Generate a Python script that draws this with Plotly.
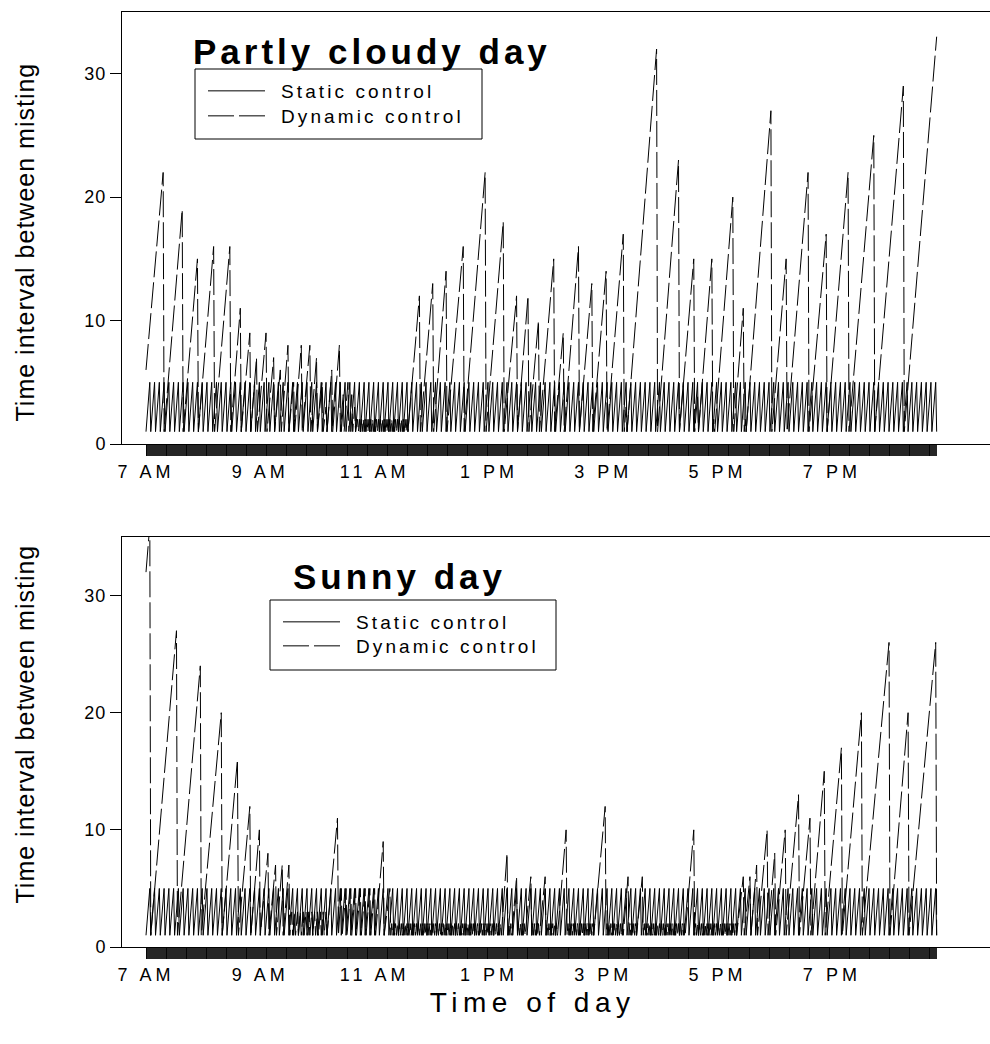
import plotly.graph_objects as go

# ---------------- data (minutes after 7:00 AM) ----------------
hour_tick_min = [0, 120, 240, 360, 480, 600, 720]
hour_tick_text = ["7 AM", "9 AM", "11 AM", "1 PM", "3 PM", "5 PM", "7 PM"]
y_tick_vals = [0, 10, 20, 30]
day_end_min = 830
static_interval = 5

# Partly cloudy day - dynamic control: peaks of the counter
pc_dyn_start_value = 6
pc_peak_min = [18, 38, 54, 71, 88, 99, 109, 116, 126, 134,
               141, 149, 155, 163, 172, 179, 185, 189, 195, 203,
               207, 212, 216, 219, 287, 301, 315, 333, 356, 375,
               389, 401, 412, 428, 438, 454, 468, 483, 501, 504,
               536, 559, 575, 579, 594, 596, 616, 627, 629, 656,
               672, 695, 714, 737, 764, 795, 830]
pc_peak_val = [22, 19, 15, 16, 16, 11, 9, 7, 9, 7,
               6, 8, 5, 8, 8, 7, 5, 3, 6, 8,
               4, 5, 4, 3, 12, 13, 14, 16, 22, 18,
               12, 12, 10, 15, 9, 16, 13, 14, 17, 3,
               32, 23, 15, 4, 15, 2, 20, 11, 2, 27,
               15, 22, 17, 22, 25, 29, 33]
# runs of short, repeated intervals
pc_run_start = [222]
pc_run_end = [274]
pc_run_step = [2]

# Sunny day - dynamic control
sd_dyn_start_value = 32
sd_peak_min = [4, 32, 57, 79, 96, 109, 119, 128, 136, 143,
               150, 201, 249, 256, 379, 389, 404, 419, 441, 482,
               506, 521, 575, 627, 634, 641, 652, 660, 671, 685,
               697, 712, 730, 751, 780, 800, 829]
sd_peak_val = [36, 27, 24, 20, 16, 12, 10, 8, 7, 7,
               7, 11, 9, 5, 8, 6, 6, 6, 10, 12,
               6, 6, 10, 6, 6, 7, 10, 8, 10, 13,
               11, 15, 17, 20, 26, 20, 26]
sd_run_start = [153, 205, 258, 381, 391, 406, 421, 443, 484, 508, 523, 577]
sd_run_end = [189, 240, 372, 383, 397, 412, 431, 469, 500, 514, 565, 619]
sd_run_step = [3, 5, 2, 2, 2, 2, 2, 2, 2, 2, 2, 2]


# ---------------- build line vertices ----------------
def dynamic_xy(start_val, peak_min, peak_val, run_start, run_end, run_step, end):
    peaks = list(zip(peak_min, peak_val))
    for s, e, st in zip(run_start, run_end, run_step):
        t = s
        while t <= e:
            peaks.append((t, st))
            t += st
    peaks.sort()
    xs, ys = [0], [start_val]
    for i, (t, v) in enumerate(peaks):
        if i > 0:
            xs.append(peaks[i - 1][0] + 1)
            ys.append(1)
        xs.append(t)
        ys.append(v)
    if peaks[-1][0] < end:
        xs.append(peaks[-1][0] + 1)
        ys.append(1)
    return xs, ys


def static_xy(interval, end):
    xs, ys = [], []
    t = 0
    while t <= end:
        xs.append(t)
        ys.append(1)
        if t + interval - 1 <= end:
            xs.append(t + interval - 1)
            ys.append(interval)
        t += interval
    return xs, ys


pc_sx, pc_sy = static_xy(static_interval, day_end_min)
pc_dx, pc_dy = dynamic_xy(pc_dyn_start_value, pc_peak_min, pc_peak_val,
                          pc_run_start, pc_run_end, pc_run_step, day_end_min)
sd_sx, sd_sy = static_xy(static_interval, day_end_min)
sd_dx, sd_dy = dynamic_xy(sd_dyn_start_value, sd_peak_min, sd_peak_val,
                          sd_run_start, sd_run_end, sd_run_step, day_end_min)

# ---------------- geometry ----------------
W, H = 990, 1044
L, R, T, B = 122, 0, 12, 97
PW, PH = W - L - R, H - T - B


def px_x(px):
    return (px - L) / PW


def px_y(py):
    return (H - B - py) / PH


FONT = "Liberation Sans, Arial, sans-serif"
DASH = "26px,5px"
px_per_min = 0.9526
x_lo = -(146 - L) / px_per_min
x_hi = x_lo + PW / px_per_min

minute_ticks = list(range(0, day_end_min + 1))
tick_text = [hour_tick_text[hour_tick_min.index(m)] if m in hour_tick_min else ""
             for m in minute_ticks]

fig = go.Figure()
fig.add_trace(go.Scatter(x=pc_sx, y=pc_sy, mode="lines", name="Static control",
                         line=dict(color="black", width=1), legend="legend",
                         xaxis="x", yaxis="y", hoverinfo="skip"))
fig.add_trace(go.Scatter(x=pc_dx, y=pc_dy, mode="lines", name="Dynamic control",
                         line=dict(color="black", width=1, dash=DASH), legend="legend2",
                         xaxis="x", yaxis="y", hoverinfo="skip"))
fig.add_trace(go.Scatter(x=sd_sx, y=sd_sy, mode="lines", name="Static control",
                         line=dict(color="black", width=1), legend="legend3",
                         xaxis="x2", yaxis="y2", hoverinfo="skip"))
fig.add_trace(go.Scatter(x=sd_dx, y=sd_dy, mode="lines", name="Dynamic control",
                         line=dict(color="black", width=1, dash=DASH), legend="legend4",
                         xaxis="x2", yaxis="y2", hoverinfo="skip"))

xcommon = dict(range=[x_lo, x_hi], tickmode="array", tickvals=minute_ticks,
               ticktext=tick_text, ticks="outside", ticklen=11, tickwidth=0.85,
               tickcolor="black", showline=True, linecolor="black", linewidth=1,
               mirror=True, showgrid=False, zeroline=False, tickangle=0,
               tickfont=dict(family=FONT, size=18, color="black"),
               ticklabelstandoff=0, fixedrange=True)
ycommon = dict(range=[0, 35], tickmode="array", tickvals=y_tick_vals,
               ticks="outside", ticklen=11, tickwidth=1, tickcolor="black",
               showline=True, linecolor="black", linewidth=1, mirror=False,
               showgrid=False, zeroline=False,
               tickfont=dict(family=FONT, size=18, color="black"), fixedrange=True)

leg = dict(bgcolor="rgba(0,0,0,0)", borderwidth=0,
           font=dict(family=FONT, size=19, color="black"),
           itemwidth=57, xanchor="left", yanchor="top", itemclick=False,
           itemdoubleclick=False)

fig.update_layout(
    width=W, height=H, autosize=False,
    margin=dict(l=L, r=R, t=T, b=B),
    paper_bgcolor="white", plot_bgcolor="white",
    xaxis=dict(domain=[0, 1], anchor="y", **xcommon),
    yaxis=dict(domain=[px_y(444), 1], anchor="x", **ycommon),
    xaxis2=dict(domain=[0, 1], anchor="y2", **xcommon),
    yaxis2=dict(domain=[0, px_y(537)], anchor="x2", **ycommon),
    legend=dict(x=px_x(203), y=px_y(72), **leg),
    legend2=dict(x=px_x(203), y=px_y(97), **leg),
    legend3=dict(x=px_x(278), y=px_y(603), **leg),
    legend4=dict(x=px_x(278), y=px_y(627), **leg),
    shapes=[
        dict(type="rect", xref="paper", yref="paper",
             x0=px_x(195), x1=px_x(482), y0=px_y(139), y1=px_y(69),
             line=dict(color="black", width=1), fillcolor="rgba(0,0,0,0)"),
        dict(type="rect", xref="paper", yref="paper",
             x0=px_x(270), x1=px_x(556), y0=px_y(670), y1=px_y(600),
             line=dict(color="black", width=1), fillcolor="rgba(0,0,0,0)"),
    ],
    annotations=[
        dict(text="Partly cloudy day", xref="paper", yref="paper",
             x=px_x(372), y=px_y(51), xanchor="center", yanchor="middle",
             showarrow=False,
             font=dict(family=FONT, size=35, color="black", weight="bold")),
        dict(text="Sunny day", xref="paper", yref="paper",
             x=px_x(400), y=px_y(576), xanchor="center", yanchor="middle",
             showarrow=False,
             font=dict(family=FONT, size=35, color="black", weight="bold")),
        dict(text="Time interval between misting", xref="paper", yref="paper",
             x=px_x(25), y=px_y(242), xanchor="center", yanchor="middle",
             textangle=-90, showarrow=False,
             font=dict(family=FONT, size=25, color="black")),
        dict(text="Time interval between misting", xref="paper", yref="paper",
             x=px_x(25), y=px_y(724), xanchor="center", yanchor="middle",
             textangle=-90, showarrow=False,
             font=dict(family=FONT, size=25, color="black")),
        dict(text="Time of day", xref="paper", yref="paper",
             x=px_x(532), y=px_y(1002), xanchor="center", yanchor="middle",
             showarrow=False,
             font=dict(family=FONT, size=28, color="black")),
    ],
    showlegend=True,
)

post = """
document.body.style.margin = '0';
document.body.style.padding = '0';
document.documentElement.style.overflow = 'hidden';
var gd = document.getElementById('{plot_id}');
function ls(sel, v) {
  document.querySelectorAll(sel).forEach(function(e){
    if (e.style.letterSpacing !== v) { e.style.letterSpacing = v; }
  });
}
function applySpacing() {
  ls('.xtick text, .x2tick text', '4px');
  ls('.ytick text, .y2tick text', '1px');
  var legSel = 'text.legendtext, text.legend2text, text.legend3text, text.legend4text';
  ls(legSel, '3.1px');
  document.querySelectorAll(legSel).forEach(function(e){
    if (e.getAttribute('transform') !== 'translate(11,0)') {
      e.setAttribute('transform', 'translate(11,0)');
    }
  });
  document.querySelectorAll('g.scrollbox, g.legend, g.legend2, g.legend3, g.legend4').forEach(function(e){
    if (e.hasAttribute('clip-path')) { e.removeAttribute('clip-path'); }
  });
  var sp = ['4px', '4px', '1px', '1px', '5.5px'];
  document.querySelectorAll('text.annotation-text').forEach(function(e, i){
    var v = sp[i] || '0px';
    if (e.style.letterSpacing !== v) { e.style.letterSpacing = v; }
  });
}
applySpacing();
try {
  var mo = new MutationObserver(function(){ applySpacing(); });
  mo.observe(gd, {childList: true, subtree: true});
} catch (err) {}
if (gd.on) { gd.on('plotly_afterplot', applySpacing); }
requestAnimationFrame(applySpacing);
[0, 30, 100, 250, 500, 1000, 2000].forEach(function(t){ setTimeout(applySpacing, t); });
"""

fig.write_html("out.html", config={"displayModeBar": False, "staticPlot": True},
               post_script=post)
